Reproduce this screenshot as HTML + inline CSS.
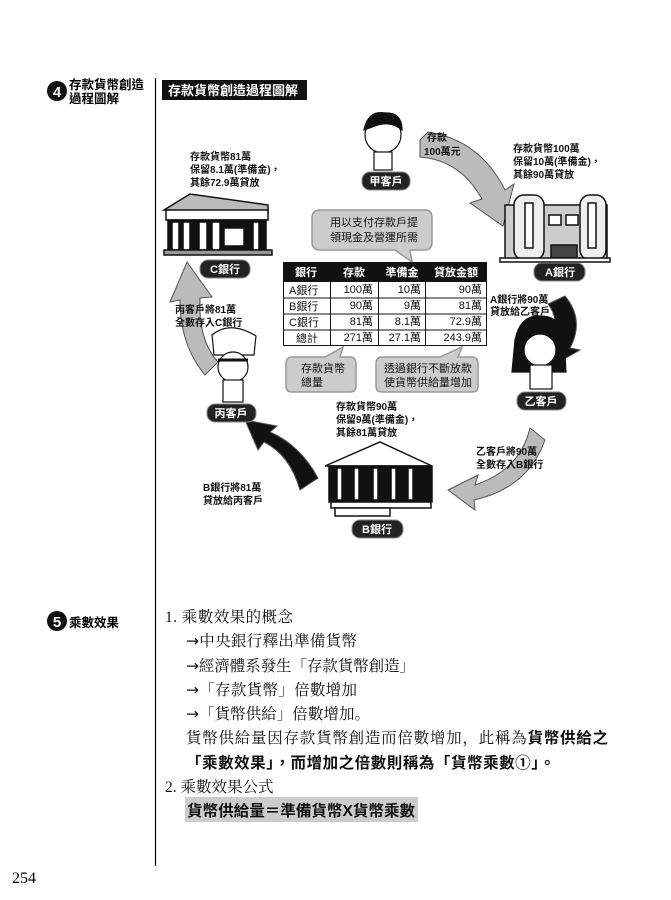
<!DOCTYPE html>
<html><head><meta charset="utf-8"><style>
html,body{margin:0;padding:0;background:#fff}
svg{display:block}
.s{font-family:"Liberation Sans","Noto Sans CJK TC",sans-serif}
.r{font-family:"Liberation Serif","Noto Serif CJK SC",serif}
.a{font-family:"DejaVu Sans",sans-serif}
</style></head><body>
<svg width="671" height="900" viewBox="0 0 671 900" xmlns="http://www.w3.org/2000/svg">
<line x1="155.5" y1="78" x2="155.5" y2="866" stroke="#000" stroke-width="1.2"/>
<circle cx="57" cy="91" r="10" fill="#111"/>
<text x="57" y="97" text-anchor="middle" class="s" font-size="15" font-weight="bold" fill="#fff">4</text>
<text x="69" y="89" class="s" font-size="12.5" font-weight="bold">存款貨幣創造</text>
<text x="69" y="103" class="s" font-size="12.5" font-weight="bold">過程圖解</text>
<rect x="162" y="80" width="145" height="20" fill="#111"/>
<text x="168" y="95" class="s" font-size="13" font-weight="bold" fill="#fff">存款貨幣創造過程圖解</text>

<g stroke="#555" stroke-width="1">
<path d="M420 140 L428 132 Q480 140 505 190 L514 184 L503 226 L470 203 L482 199 Q460 160 420 157 Z" fill="#bbb"/>
<path d="M565 296 Q585 320 570 348 L580 350 L545 370 L540 334 L552 338 Q560 320 548 304 Z" fill="#111"/>
<path d="M530 428 Q520 470 475 485 L478 475 L448 490 L475 510 L474 500 Q528 488 545 440 Z" fill="#bbb"/>
<path d="M318 478 Q300 445 270 432 L277 426 L245 420 L258 450 L264 442 Q290 455 300 490 Z" fill="#111"/>
<path d="M205 375 Q180 345 180 300 L170 302 L187 262 L212 297 L200 298 Q198 340 218 362 Z" fill="#bbb"/>
</g>

<g stroke="#111" stroke-width="1.5">
<polygon points="164,210 190,194 268,205 268,212" fill="#bbb"/>
<rect x="166" y="210" width="102" height="10" fill="#fff"/>
<rect x="168" y="220" width="98" height="30" fill="#111"/>
<g fill="#fff"><rect x="172" y="222" width="7" height="28"/><rect x="183" y="222" width="7" height="28"/><rect x="199" y="222" width="8" height="28"/><rect x="212" y="222" width="8" height="28"/><rect x="253" y="222" width="6" height="28"/></g>
<rect x="224" y="228" width="20" height="18" fill="#fff"/>
<rect x="164" y="250" width="108" height="5" fill="#999"/>
<rect x="505" y="205" width="102" height="55" fill="#ccc"/>
<rect x="514" y="195" width="30" height="65" rx="10" fill="#eee"/>
<rect x="580" y="195" width="26" height="65" rx="10" fill="#eee"/>
<rect x="525" y="203" width="8" height="45" fill="#fff"/><rect x="588" y="203" width="8" height="45" fill="#fff"/>
<rect x="549" y="215" width="12" height="10" fill="#fff"/><rect x="566" y="215" width="12" height="10" fill="#fff"/>
<rect x="551" y="245" width="26" height="14" fill="#444"/>
<rect x="500" y="258" width="110" height="4" fill="#fff"/>
<polygon points="325,466 380,442 432,466" fill="#fff"/>
<rect x="329" y="466" width="103" height="36" fill="#111"/>
<g fill="#fff"><rect x="337" y="468" width="5" height="32"/><rect x="354" y="468" width="5" height="32"/><rect x="373" y="468" width="5" height="32"/><rect x="391" y="468" width="5" height="32"/><rect x="408" y="468" width="5" height="32"/></g>
<rect x="331" y="502" width="100" height="6" fill="#fff"/>
<rect x="335" y="508" width="55" height="8" fill="#fff"/>
</g>

<g stroke="#111" stroke-width="1.2">
<circle cx="383" cy="135" r="18" fill="#fff"/>
<path d="M364 130 Q368 110 385 113 Q402 112 402 130 Q390 120 375 126 Z" fill="#111"/>
<rect x="374" y="152" width="18" height="18" fill="#fff"/>
<path d="M515 340 Q520 315 540 316 Q562 316 564 340 L566 372 L512 372 Z" fill="#111"/>
<circle cx="540" cy="350" r="16" fill="#fff"/>
<rect x="530" y="365" width="22" height="24" fill="#fff"/>
<path d="M212 335 Q230 320 256 336 L254 355 L214 355 Z" fill="#fff"/>
<circle cx="233" cy="367" r="15" fill="#fff"/>
<path d="M218 360 L248 360" stroke-width="3"/>
<rect x="223" y="380" width="20" height="22" fill="#fff"/>
</g>

<g fill="#222" stroke="#888" stroke-width="1">
<rect x="362" y="172" width="48" height="18" rx="8"/>
<rect x="534" y="263" width="51" height="18" rx="8"/>
<rect x="200" y="260" width="50" height="18" rx="8"/>
<rect x="517" y="392" width="49" height="18" rx="8"/>
<rect x="207" y="404" width="49" height="18" rx="8"/>
<rect x="352" y="520" width="51" height="18" rx="8"/>
</g>
<g class="s" font-size="11" font-weight="bold" fill="#fff" text-anchor="middle">
<text x="386" y="185">甲客戶</text>
<text x="560" y="276">A銀行</text>
<text x="225" y="273">C銀行</text>
<text x="541" y="405">乙客戶</text>
<text x="231" y="417">丙客戶</text>
<text x="377" y="533">B銀行</text>
</g>

<g fill="#ccc" stroke="#999" stroke-width="1.5">
<path d="M320 210 H425 Q432 210 432 218 V242 Q432 250 425 250 H410 L412 262 L395 250 H320 Q312 250 312 242 V218 Q312 210 320 210 Z"/>
<path d="M292 357 H325 L343 347 L340 357 H350 Q356 357 356 364 V386 Q356 392 350 392 H292 Q286 392 286 386 V364 Q286 357 292 357 Z"/>
<path d="M382 357 H440 L462 347 L458 357 H472 Q478 357 478 364 V386 Q478 392 472 392 H382 Q376 392 376 386 V364 Q376 357 382 357 Z"/>
</g>
<g class="s" font-size="11" fill="#111">
<text x="330" y="226">用以支付存款戶提</text>
<text x="330" y="241">領現金及營運所需</text>
<text x="301" y="372">存款貨幣</text>
<text x="301" y="386">總量</text>
<text x="384" y="372">透過銀行不斷放款</text>
<text x="384" y="386">使貨幣供給量增加</text>
</g>

<rect x="283" y="262" width="204" height="20" fill="#111"/>
<g stroke="#111" stroke-width="1" fill="none">
<rect x="283.5" y="262.5" width="203" height="83"/>
<line x1="283" y1="298" x2="487" y2="298"/><line x1="283" y1="314" x2="487" y2="314"/><line x1="283" y1="330" x2="487" y2="330"/>
<line x1="330.5" y1="282" x2="330.5" y2="346"/><line x1="378.5" y1="282" x2="378.5" y2="346"/><line x1="425.5" y1="282" x2="425.5" y2="346"/>
</g>
<g class="s" font-size="11" font-weight="bold">
<g fill="#fff" text-anchor="middle"><text x="306" y="276">銀行</text><text x="354" y="276">存款</text><text x="402" y="276">準備金</text><text x="456" y="276">貸放金額</text></g>
<g fill="#111" font-weight="normal">
<text x="289" y="294">A銀行</text><text x="289" y="310">B銀行</text><text x="289" y="326">C銀行</text><text x="296" y="342">總計</text>
<g text-anchor="end"><text x="373" y="293">100萬</text><text x="373" y="309">90萬</text><text x="373" y="325">81萬</text><text x="373" y="341">271萬</text>
<text x="421" y="293">10萬</text><text x="421" y="309">9萬</text><text x="421" y="325">8.1萬</text><text x="421" y="341">27.1萬</text>
<text x="482" y="293">90萬</text><text x="482" y="309">81萬</text><text x="482" y="325">72.9萬</text><text x="482" y="341">243.9萬</text></g>
</g></g>

<g class="s" font-size="10" font-weight="bold" fill="#111">
<text x="190" y="160">存款貨幣81萬</text><text x="190" y="173">保留8.1萬(準備金)，</text><text x="190" y="186">其餘72.9萬貸放</text>
<text x="513" y="152">存款貨幣100萬</text><text x="513" y="165">保留10萬(準備金)，</text><text x="513" y="178">其餘90萬貸放</text>
<text x="427" y="141">存款</text><text x="424" y="155">100萬元</text>
<text x="490" y="303">A銀行將90萬</text><text x="490" y="315">貸放給乙客戶</text>
<text x="175" y="313">丙客戶將81萬</text><text x="175" y="326">全數存入C銀行</text>
<text x="336" y="410">存款貨幣90萬</text><text x="336" y="423">保留9萬(準備金)，</text><text x="336" y="436">其餘81萬貸放</text>
<text x="476" y="455">乙客戶將90萬</text><text x="476" y="468">全數存入B銀行</text>
<text x="203" y="491">B銀行將81萬</text><text x="203" y="504">貸放給丙客戶</text>
</g>

<circle cx="57" cy="621" r="10" fill="#111"/>
<text x="57" y="627" text-anchor="middle" class="s" font-size="15" font-weight="bold" fill="#fff">5</text>
<text x="69" y="627" class="s" font-size="12.5" font-weight="bold">乘數效果</text>

<rect x="185" y="797" width="233" height="25" fill="#ccc"/>
<g class="r" font-size="15.5" fill="#111">
<text x="165" y="622" textLength="128" lengthAdjust="spacing">1. 乘數效果的概念</text>
<text x="186" y="646" textLength="171" lengthAdjust="spacing"><tspan class="a">→</tspan>中央銀行釋出準備貨幣</text>
<text x="186" y="671" textLength="229" lengthAdjust="spacing"><tspan class="a">→</tspan>經濟體系發生「存款貨幣創造」</text>
<text x="186" y="695" textLength="171" lengthAdjust="spacing"><tspan class="a">→</tspan>「存款貨幣」倍數增加</text>
<text x="186" y="719" textLength="184" lengthAdjust="spacing"><tspan class="a">→</tspan>「貨幣供給」倍數增加。</text>
<text x="186" y="743" textLength="422" lengthAdjust="spacing">貨幣供給量因存款貨幣創造而倍數增加，此稱為<tspan class="s" font-weight="bold">貨幣供給之</tspan></text>
<text x="186" y="768" class="s" font-weight="bold" textLength="369" lengthAdjust="spacing">「乘數效果」，而增加之倍數則稱為「貨幣乘數①」。</text>
<text x="165" y="792">2. 乘數效果公式</text>
<text x="187" y="816" class="s" font-weight="bold" textLength="228" lengthAdjust="spacing">貨幣供給量＝準備貨幣X貨幣乘數</text>
</g>
<text x="12" y="883" class="r" font-size="16">254</text>
</svg>
</body></html>
